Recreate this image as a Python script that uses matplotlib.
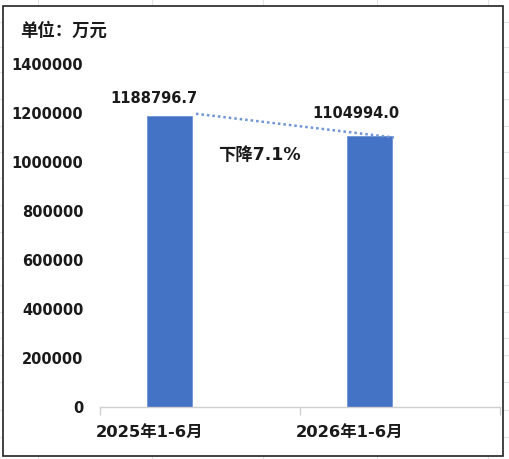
import matplotlib.pyplot as plt
from matplotlib.patches import Rectangle
from matplotlib.lines import Line2D

plt.rcParams['font.family'] = ['DejaVu Sans', 'Noto Sans CJK SC']

categories = ['2025年1-6月', '2026年1-6月']
values = [1188796.7, 1104994.0]
value_labels = ['1188796.7', '1104994.0']
yticks = [0, 200000, 400000, 600000, 800000, 1000000, 1200000, 1400000]
note = '下降7.1%'
unit = '单位：万元'

W, H = 510, 459
fig = plt.figure(figsize=(W / 100, H / 100), dpi=100)

# faint spreadsheet grid behind the chart
for x in [38, 152, 263, 377, 488]:
    fig.add_artist(Line2D([x / W, x / W], [0, 1], color='#e4e4e4', lw=0.8, zorder=0))
for y in [22, 47, 72, 99, 126, 152, 178, 205, 232, 258, 285, 312, 338, 355, 382, 410, 437]:
    fig.add_artist(Line2D([0, 1], [1 - y / H, 1 - y / H], color='#e4e4e4', lw=0.8, zorder=0))

# chart area with border
fig.add_artist(Rectangle((3 / W, 1 - 456 / H), 500 / W, 450 / H, facecolor='white',
                         edgecolor='#222222', lw=1.2, zorder=1))

ax = fig.add_axes([100 / W, 52 / H, 400 / W, 343 / H], zorder=2)
ax.patch.set_alpha(0)

xpos = [i - 0.15 for i in range(len(categories))]
ax.bar(xpos, values, width=0.225, color='#4472c4', edgecolor='#6f94d6', lw=0.6)
ax.plot([xpos[0] + 0.13, xpos[1] + 0.12], [values[0] + 8000, values[1] - 5000],
        ls=(0, (1, 1.2)), color='#6f94d6', lw=1.8)

for x, v, t in zip([xpos[0] - 0.08, xpos[1] - 0.07], [values[0] + 70000, values[1] + 95000], value_labels):
    ax.text(x, v, t, ha='center', va='center', fontsize=10.5, fontweight='bold', color='#1a1a1a')
ax.text(0.295, 1030000, note, ha='center', va='center', fontsize=12.5, fontweight='bold', color='#1a1a1a')

ax.set_xlim(-0.5, 1.5)
ax.set_ylim(0, 1400000)
ax.set_yticks(yticks)
ax.set_yticklabels([str(t) for t in yticks], fontsize=10.5, fontweight='bold', color='#1a1a1a')
ax.tick_params(axis='y', length=0, pad=12)
ax.set_xticks([-0.5, 0.5, 1.5])
ax.set_xticklabels([])
ax.tick_params(axis='x', length=6, color='#d0d0d0', width=1)
for i, c in enumerate(categories):
    ax.text(i - 0.25, -105000, c, ha='center', va='center', fontsize=11.8, fontweight='bold', color='#1a1a1a')

for s in ['top', 'right', 'left']:
    ax.spines[s].set_visible(False)
ax.spines['bottom'].set_color('#d0d0d0')
ax.spines['bottom'].set_linewidth(1)

fig.text(20 / W, 1 - 31 / H, unit, ha='left', va='center', fontsize=12.5, fontweight='bold',
         family=['Noto Sans CJK SC', 'DejaVu Sans'], color='#1a1a1a', zorder=3)

fig.savefig('out.png', dpi=100)
